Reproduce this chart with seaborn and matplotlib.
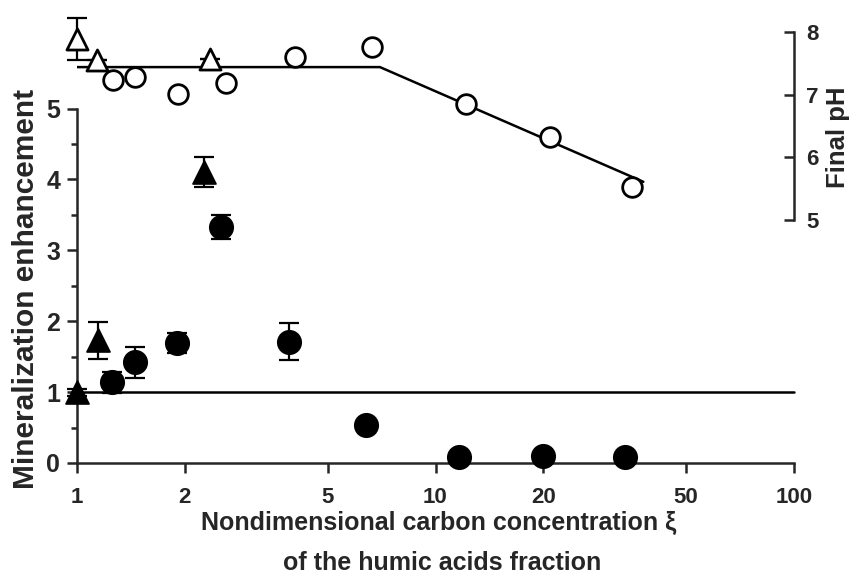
import matplotlib
matplotlib.use("Agg")
import matplotlib.pyplot as plt
import seaborn as sns
import numpy as np
import pandas as pd
from matplotlib.ticker import FixedLocator

# ---------------- data ----------------
# Mineralization enhancement (left axis)
tri_fill_x = [1.0, 1.145, 2.26]
tri_fill_y = [1.0, 1.73, 4.10]
tri_fill_err = [0.05, 0.26, 0.21]

circ_fill_x = [1.25, 1.45, 1.90, 2.52, 3.91, 6.40, 11.6, 19.9, 33.8]
circ_fill_y = [1.14, 1.42, 1.69, 3.33, 1.71, 0.54, 0.08, 0.10, 0.08]
circ_fill_err = [0.15, 0.22, 0.14, 0.17, 0.26, 0.0, 0.0, 0.0, 0.0]

ref_x = [1, 100]
ref_y = [1, 1]

# Final pH (right axis)
tri_open_x = [1.0, 1.137, 2.35]
tri_open_ph = [7.89, 7.55, 7.57]
tri_open_err = [0.34, 0.0, 0.0]

circ_open_x = [1.26, 1.45, 1.91, 2.60, 4.06, 6.65, 12.2, 20.9, 35.3]
circ_open_ph = [7.23, 7.28, 7.01, 7.19, 7.60, 7.76, 6.85, 6.33, 5.53]

fit_x = [1.0, 7.0, 38.0]
fit_ph = [7.44, 7.44, 5.61]

x_ticks = [1, 2, 5, 10, 20, 50, 100]
y_ticks = [0, 1, 2, 3, 4, 5]
ph_ticks = [5, 6, 7, 8]

# ---------------- style ----------------
sns.set_style("ticks")
plt.rcParams['font.family'] = ['Liberation Sans', 'DejaVu Sans']
plt.rcParams['font.weight'] = 'bold'

fig = plt.figure(figsize=(8.56, 5.81), dpi=100)
ax = fig.add_axes([77/856, (581-463)/581, (794-77)/856, (463-10)/581])
ax2 = ax.twinx()

lw = 1.8
ax.set_xscale('log')
ax.set_xlim(1, 100)
ax.set_ylim(0, (463-10)/70.9)
ax2.set_ylim(5 - (463-220)/62.7, 8 + (32-10)/62.7)

# reference line
sns.lineplot(x=ref_x, y=ref_y, ax=ax, color='black', lw=lw, clip_on=False)

# error bars + filled markers
ax.errorbar(tri_fill_x, tri_fill_y, yerr=tri_fill_err, fmt='none', ecolor='black',
            elinewidth=1.6, capsize=7, capthick=1.6, clip_on=False)
ax.errorbar(circ_fill_x, circ_fill_y, yerr=circ_fill_err, fmt='none', ecolor='black',
            elinewidth=1.6, capsize=7, capthick=1.6, clip_on=False)
sns.scatterplot(x=tri_fill_x, y=tri_fill_y, ax=ax, marker='^', s=270, color='black',
                edgecolor='black', clip_on=False, zorder=5)
sns.scatterplot(x=circ_fill_x, y=circ_fill_y, ax=ax, marker='o', s=280, color='black',
                edgecolor='black', clip_on=False, zorder=5)

# pH
sns.lineplot(x=fit_x, y=fit_ph, ax=ax2, color='black', lw=lw, sort=False)
ax2.errorbar(tri_open_x, tri_open_ph, yerr=tri_open_err, fmt='none', ecolor='black',
             elinewidth=1.6, capsize=7, capthick=1.6, clip_on=False)
ax2.scatter(tri_open_x, tri_open_ph, marker='^', s=230, facecolor='white',
            edgecolor='black', linewidth=2.0, clip_on=False, zorder=5)
ax2.scatter(circ_open_x, circ_open_ph, marker='o', s=200, facecolor='white',
            edgecolor='black', linewidth=2.0, clip_on=False, zorder=5)

# axes styling
for a in (ax, ax2):
    a.spines['top'].set_visible(False)
    for s in a.spines.values():
        s.set_linewidth(lw)
ax.spines['right'].set_visible(False)
ax2.spines['left'].set_visible(False)
ax2.spines['bottom'].set_visible(False)
ax.spines['left'].set_bounds(0, 5)
ax2.spines['right'].set_bounds(5, 8)

ax.xaxis.set_major_locator(FixedLocator(x_ticks))
ax.xaxis.set_minor_locator(FixedLocator([]))
ax.set_xticklabels([str(t) for t in x_ticks])
ax.yaxis.set_major_locator(FixedLocator(y_ticks))
ax.yaxis.set_minor_locator(FixedLocator([0.5, 1.5, 2.5, 3.5, 4.5]))
ax2.yaxis.set_major_locator(FixedLocator(ph_ticks))
ax2.yaxis.set_minor_locator(FixedLocator([]))

ax.tick_params(axis='x', which='major', direction='out', length=7, width=lw,
               labelsize=16, pad=10)
ax.tick_params(axis='y', which='major', direction='out', length=7, width=lw,
               labelsize=18, pad=5)
ax.tick_params(axis='y', which='minor', direction='out', length=4, width=lw)
ax2.tick_params(axis='y', which='major', direction='in', length=7, width=lw,
                labelsize=16, pad=9)
for lab in ax.get_xticklabels() + ax.get_yticklabels() + ax2.get_yticklabels():
    lab.set_fontweight('bold')

ax.set_ylabel('')
ax2.set_ylabel('')
fig.text(26/856, 1 - 289/581, 'Mineralization enhancement', rotation=90,
         ha='center', va='center', fontsize=21.5, fontweight='bold')
fig.text(838/856, 1 - 137/581, 'Final pH', rotation=90,
         ha='center', va='center', fontsize=18.5, fontweight='bold')
fig.text(439/856, 1 - 530/581, 'Nondimensional carbon concentration ξ',
         ha='center', va='baseline', fontsize=18, fontweight='bold')
fig.text(442/856, 1 - 570/581, 'of the humic acids fraction',
         ha='center', va='baseline', fontsize=18, fontweight='bold')

fig.savefig('out.png', dpi=100)
